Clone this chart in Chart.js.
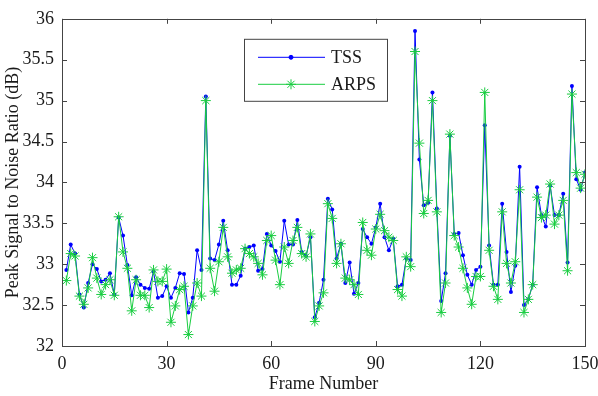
<!DOCTYPE html>
<html>
<head>
<meta charset="utf-8">
<title>PSNR per frame</title>
<script src="https://cdn.jsdelivr.net/npm/chart.js@4.4.1/dist/chart.umd.min.js"></script>
<style>
    html, body { margin: 0; padding: 0; background: #fff; }
    #chart { display: block; }
</style>
</head>
<body>
<canvas id="chart" width="598" height="396"></canvas>
<script>
(function () {
    'use strict';

    // frames are sampled every 1.25 frame numbers (120 samples over 0..150)
    var FRAME_STEP = 1.25;

    var TSS = [
        32.93, 33.24, 33.13, 32.63, 32.47, 32.77, 33.00, 32.94, 32.79, 32.81,
        32.89, 32.63, 33.57, 33.35, 32.99, 32.62, 32.84, 32.75, 32.71, 32.70,
        32.91, 32.59, 32.61, 32.73, 32.59, 32.71, 32.89, 32.88, 32.41, 32.59,
        33.17, 32.93, 35.05, 33.07, 33.05, 33.24, 33.53, 33.17, 32.75, 32.75,
        32.86, 33.19, 33.21, 33.23, 32.92, 32.94, 33.37, 33.23, 33.16, 33.03,
        33.53, 33.24, 33.24, 33.54, 33.15, 33.10, 33.33, 32.35, 32.53, 32.81,
        33.80, 33.67, 33.07, 33.25, 32.77, 33.02, 32.64, 32.77, 33.43, 33.33,
        33.25, 33.45, 33.74, 33.33, 33.17, 33.31, 32.73, 32.75, 33.07, 33.05,
        35.85, 34.28, 33.72, 33.75, 35.10, 33.68, 32.55, 32.89, 34.57, 33.37,
        33.38, 33.11, 32.87, 32.75, 32.93, 32.97, 34.70, 33.23, 32.75, 32.75,
        33.74, 33.15, 32.66, 32.98, 34.19, 32.50, 32.57, 32.75, 33.94, 33.60,
        33.46, 33.96, 33.60, 33.60, 33.86, 33.02, 35.18, 34.04, 33.91, 34.12
    ];

    var ARPS = [
        32.80, 33.13, 33.10, 32.61, 32.51, 32.71, 33.08, 32.83, 32.63, 32.75,
        32.81, 32.62, 33.58, 33.15, 32.95, 32.43, 32.81, 32.62, 32.62, 32.47,
        32.93, 32.79, 32.79, 32.94, 32.29, 32.49, 32.69, 32.73, 32.14, 32.49,
        32.77, 32.61, 35.00, 32.95, 32.67, 33.03, 33.45, 33.09, 32.89, 32.93,
        32.95, 33.19, 33.13, 33.09, 33.01, 32.87, 33.29, 33.35, 33.05, 32.75,
        33.21, 33.01, 33.29, 33.45, 33.13, 33.09, 33.37, 32.30, 32.49, 32.65,
        33.74, 33.56, 33.01, 33.25, 32.83, 32.81, 32.75, 32.63, 33.51, 33.17,
        33.11, 33.43, 33.61, 33.41, 33.33, 33.29, 32.69, 32.61, 33.09, 32.97,
        35.60, 34.48, 33.62, 33.78, 35.00, 33.64, 32.41, 32.77, 34.59, 33.35,
        33.21, 32.95, 32.71, 32.51, 32.85, 32.85, 35.10, 33.17, 32.73, 32.57,
        33.64, 33.01, 32.77, 33.03, 33.91, 32.41, 32.57, 32.75, 33.82, 33.57,
        33.60, 33.98, 33.49, 33.60, 33.78, 32.92, 35.08, 34.12, 33.93, 34.10
    ];

    var X_TICKS = [0, 30, 60, 90, 120, 150];
    var Y_TICKS = [32, 32.5, 33, 33.5, 34, 34.5, 35, 35.5, 36];

    var SERIF = '"Liberation Serif", "Times New Roman", serif';
    var FONT_SIZE = 18;
    var BLUE = '#0000ff';
    var GREEN = 'rgb(25, 205, 65)';
    var FRAME = '#444444';
    var TEXT = '#1a1a1a';

    function toPoints(values) {
        var pts = [];
        for (var i = 0; i < values.length; i++) {
            pts.push({ x: (i + 1) * FRAME_STEP, y: values[i] });
        }
        return pts;
    }

    // box around the plot with MATLAB-style inward ticks on all four sides
    var frameBox = {
        id: 'frameBox',
        afterDatasetsDraw: function (chart) {
            var ctx = chart.ctx;
            var a = chart.chartArea;
            var xs = chart.scales.x;
            var ys = chart.scales.y;
            var len = 5;
            var i, p;
            ctx.save();
            ctx.strokeStyle = FRAME;
            ctx.lineWidth = 1;
            ctx.beginPath();
            for (i = 0; i < X_TICKS.length; i++) {
                p = Math.round(xs.getPixelForValue(X_TICKS[i])) + 0.5;
                ctx.moveTo(p, a.bottom);
                ctx.lineTo(p, a.bottom - len);
                ctx.moveTo(p, a.top);
                ctx.lineTo(p, a.top + len);
            }
            for (i = 0; i < Y_TICKS.length; i++) {
                p = Math.round(ys.getPixelForValue(Y_TICKS[i])) + 0.5;
                ctx.moveTo(a.left, p);
                ctx.lineTo(a.left + len, p);
                ctx.moveTo(a.right, p);
                ctx.lineTo(a.right - len, p);
            }
            ctx.stroke();
            ctx.strokeRect(Math.round(a.left) + 0.5, Math.round(a.top) + 0.5,
                Math.round(a.right - a.left), Math.round(a.bottom - a.top));
            ctx.restore();
        }
    };

    // legend box drawn inside the plot area
    var insideLegend = {
        id: 'insideLegend',
        afterDraw: function (chart) {
            var ctx = chart.ctx;
            var a = chart.chartArea;
            var left = a.left + 182;
            var top = a.top + 20;
            var w = 143;
            var h = 62;
            var rows = [
                { label: 'TSS', color: BLUE, style: 'circle', radius: 2, y: top + 18 },
                { label: 'ARPS', color: GREEN, style: 'star', radius: 5, y: top + 45 }
            ];
            ctx.save();
            ctx.fillStyle = '#fff';
            ctx.fillRect(left, top, w, h);
            ctx.strokeStyle = FRAME;
            ctx.lineWidth = 1;
            ctx.strokeRect(left + 0.5, top + 0.5, w, h);
            for (var i = 0; i < rows.length; i++) {
                var r = rows[i];
                ctx.strokeStyle = r.color;
                ctx.fillStyle = r.color;
                ctx.lineWidth = 1;
                ctx.beginPath();
                ctx.moveTo(left + 14, r.y + 0.5);
                ctx.lineTo(left + 81, r.y + 0.5);
                ctx.stroke();
                Chart.helpers.drawPoint(ctx, {
                    pointStyle: r.style,
                    radius: r.radius,
                    rotation: 0,
                    borderWidth: 1
                }, left + 47, r.y + 0.5);
                ctx.fillStyle = TEXT;
                ctx.font = FONT_SIZE + 'px ' + SERIF;
                ctx.textAlign = 'left';
                ctx.textBaseline = 'middle';
                ctx.fillText(r.label, left + 87, r.y + 1);
            }
            ctx.restore();
        }
    };

    function init() {
        var canvas = document.getElementById('chart');
        new Chart(canvas, {
            type: 'line',
            data: {
                datasets: [{
                    label: 'TSS',
                    data: toPoints(TSS),
                    borderColor: BLUE,
                    backgroundColor: BLUE,
                    borderWidth: 1,
                    pointStyle: 'circle',
                    pointRadius: 2,
                    pointBorderWidth: 0,
                    tension: 0,
                    order: 1
                }, {
                    label: 'ARPS',
                    data: toPoints(ARPS),
                    borderColor: GREEN,
                    backgroundColor: GREEN,
                    borderWidth: 1,
                    pointStyle: 'star',
                    pointRadius: 5,
                    pointBorderWidth: 1,
                    tension: 0,
                    order: 0
                }]
            },
            options: {
                responsive: false,
                animation: false,
                devicePixelRatio: 1,
                layout: { padding: { top: 16, right: 0, left: 0, bottom: 0 } },
                plugins: {
                    legend: { display: false },
                    tooltip: { enabled: false }
                },
                scales: {
                    x: {
                        type: 'linear',
                        min: 0,
                        max: 150,
                        afterBuildTicks: function (scale) {
                            scale.ticks = X_TICKS.map(function (v) { return { value: v }; });
                        },
                        ticks: {
                            color: TEXT,
                            font: { family: SERIF, size: FONT_SIZE },
                            padding: 7,
                            maxRotation: 0
                        },
                        grid: { display: false, drawTicks: false },
                        border: { display: false },
                        title: {
                            display: true,
                            text: 'Frame Number',
                            color: TEXT,
                            font: { family: SERIF, size: FONT_SIZE },
                            padding: { top: 2, bottom: 1 }
                        },
                        afterFit: function (scale) {
                            scale.height = 50;
                            scale.paddingLeft = 0;
                            scale.paddingRight = 13;
                        }
                    },
                    y: {
                        type: 'linear',
                        min: 32,
                        max: 36,
                        afterBuildTicks: function (scale) {
                            scale.ticks = Y_TICKS.map(function (v) { return { value: v }; });
                        },
                        ticks: {
                            color: TEXT,
                            font: { family: SERIF, size: FONT_SIZE },
                            padding: 8,
                            callback: function (value) {
                                return String(value);
                            }
                        },
                        grid: { display: false, drawTicks: false },
                        border: { display: false },
                        title: {
                            display: true,
                            text: 'Peak Signal to Noise Ratio (dB)',
                            color: TEXT,
                            font: { family: SERIF, size: FONT_SIZE },
                            padding: { top: 2, bottom: 2 }
                        },
                        afterFit: function (scale) {
                            scale.width = 62;
                        }
                    }
                }
            },
            plugins: [frameBox, insideLegend]
        });
    }

    if (document.readyState === 'loading') {
        document.addEventListener('DOMContentLoaded', init);
    } else {
        init();
    }
})();
</script>
</body>
</html>
